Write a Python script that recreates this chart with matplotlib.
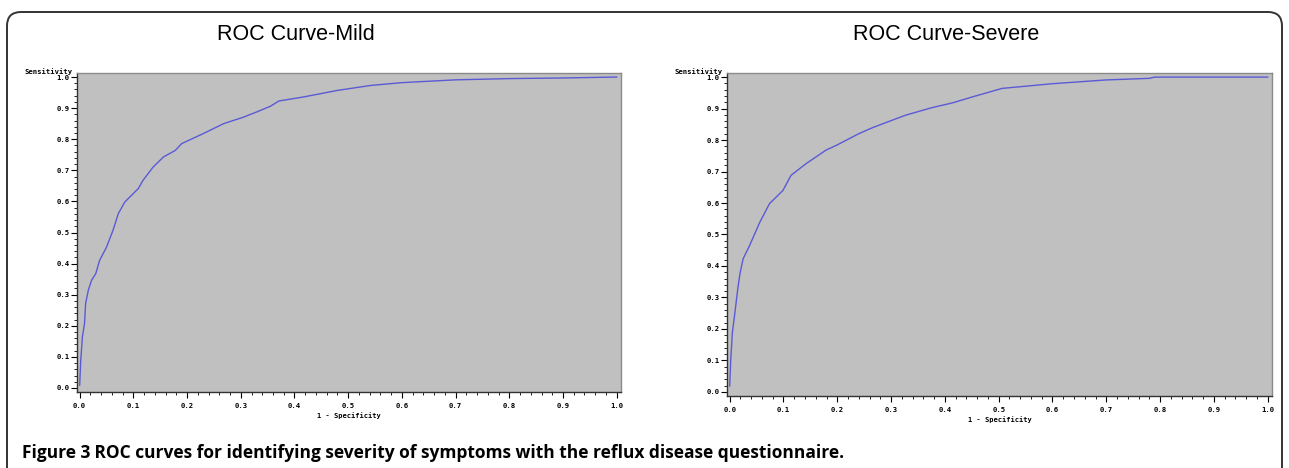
import matplotlib
matplotlib.use("Agg")
import matplotlib.pyplot as plt
from matplotlib.patches import FancyBboxPatch
from matplotlib.transforms import IdentityTransform
from matplotlib.ticker import MultipleLocator, FormatStrFormatter

# ---- data ----
mild_fpr = [0.0, 0.002, 0.005, 0.009, 0.011, 0.016, 0.022, 0.030, 0.037, 0.050,
            0.062, 0.072, 0.084, 0.109, 0.118, 0.137, 0.156, 0.178, 0.190, 0.230,
            0.268, 0.305, 0.330, 0.355, 0.371, 0.417, 0.480, 0.542, 0.600, 0.700,
            0.800, 0.900, 1.0]
mild_tpr = [0.009, 0.089, 0.164, 0.207, 0.271, 0.314, 0.346, 0.368, 0.410, 0.453,
            0.507, 0.561, 0.598, 0.641, 0.668, 0.711, 0.743, 0.764, 0.786, 0.818,
            0.850, 0.871, 0.888, 0.906, 0.923, 0.936, 0.957, 0.973, 0.982, 0.991,
            0.995, 0.997, 1.0]

severe_fpr = [0.0, 0.002, 0.005, 0.009, 0.015, 0.019, 0.025, 0.037, 0.056, 0.074,
              0.099, 0.114, 0.142, 0.179, 0.198, 0.241, 0.265, 0.302, 0.327, 0.376,
              0.414, 0.451, 0.506, 0.537, 0.600, 0.700, 0.780, 0.790, 0.900, 1.0]
severe_tpr = [0.019, 0.104, 0.189, 0.242, 0.327, 0.375, 0.423, 0.465, 0.539, 0.598,
              0.640, 0.688, 0.725, 0.768, 0.783, 0.821, 0.839, 0.863, 0.879, 0.903,
              0.918, 0.937, 0.964, 0.969, 0.979, 0.991, 0.996, 1.0, 1.0, 1.0]

titles = ["ROC Curve-Mild", "ROC Curve-Severe"]
xlabel = "1 - Specificity"
ylabel = "Sensitivity"
caption_bold = "Figure 3"
caption_rest = " ROC curves for identifying severity of symptoms with the reflux disease questionnaire."

W, H = 1289, 468
fig = plt.figure(figsize=(W / 100, H / 100), dpi=100)
fig.patch.set_facecolor("white")

def px_axes(x0, y0, x1, y1):
    return [x0 / W, 1 - y1 / H, (x1 - x0) / W, (y1 - y0) / H]

ax_rects = [px_axes(77, 73, 621, 392), px_axes(727, 73, 1272, 396)]
data = [(mild_fpr, mild_tpr), (severe_fpr, severe_tpr)]
title_x = [296, 946]
label_right = [73, 723]

tick_font = dict(family="DejaVu Sans Mono", weight="bold", size=5.2)

for i, rect in enumerate(ax_rects):
    ax = fig.add_axes(rect)
    ax.set_facecolor("#c0c0c0")
    fx, ty = data[i]
    ax.plot(fx, ty, color="#5a5ad6", lw=1.0)
    ax.set_xlim(-0.005, 1.008)
    ax.set_ylim(-0.013, 1.013)
    ax.xaxis.set_major_locator(MultipleLocator(0.1))
    ax.yaxis.set_major_locator(MultipleLocator(0.1))
    ax.xaxis.set_minor_locator(MultipleLocator(0.02))
    ax.yaxis.set_minor_locator(MultipleLocator(0.02))
    ax.xaxis.set_major_formatter(FormatStrFormatter("%.1f"))
    ax.yaxis.set_major_formatter(FormatStrFormatter("%.1f"))
    ax.tick_params(which="major", direction="out", length=4, width=0.8)
    ax.tick_params(axis="x", which="major", pad=4)
    ax.tick_params(axis="y", which="major", pad=1.5)
    ax.tick_params(which="minor", direction="out", length=2, width=0.6)
    for lab in ax.get_xticklabels() + ax.get_yticklabels():
        lab.set_fontfamily(tick_font["family"])
        lab.set_fontweight(tick_font["weight"])
        lab.set_fontsize(tick_font["size"])
    ax.spines["left"].set_color("#333333")
    ax.spines["bottom"].set_color("#333333")
    ax.spines["top"].set_color("#8a8a8a")
    ax.spines["right"].set_color("#8a8a8a")
    for s in ax.spines.values():
        s.set_linewidth(1.0)
    ax.set_xlabel(xlabel, fontfamily="DejaVu Sans Mono", fontsize=5.0,
                  fontweight="bold", labelpad=2)
    fig.text(label_right[i] / W, 1 - 71.5 / H, ylabel, ha="right", va="center",
             fontfamily="DejaVu Sans Mono", fontsize=5.2, fontweight="bold")
    fig.text(title_x[i] / W, 1 - 40 / H, titles[i], ha="center", va="baseline",
             fontfamily="Liberation Sans", fontsize=15.5)

# caption
t1 = fig.text(22 / W, 1 - 458 / H, caption_bold, ha="left", va="baseline",
              fontfamily="Open Sans", fontweight="bold", fontsize=12.5)
fig.canvas.draw()
bb = t1.get_window_extent()
fig.text(bb.x1 / W, 1 - 458 / H, caption_rest, ha="left", va="baseline",
         fontfamily="Open Sans", fontweight="bold", fontsize=12.5)

# rounded frame (open at bottom)
frame = FancyBboxPatch((7, -60), 1275, H - 12 + 60,
                       boxstyle="round,pad=0,rounding_size=14",
                       transform=IdentityTransform(), fill=False,
                       edgecolor="#333333", linewidth=1.4)
fig.patches.append(frame)

fig.savefig("out.png", dpi=100)
